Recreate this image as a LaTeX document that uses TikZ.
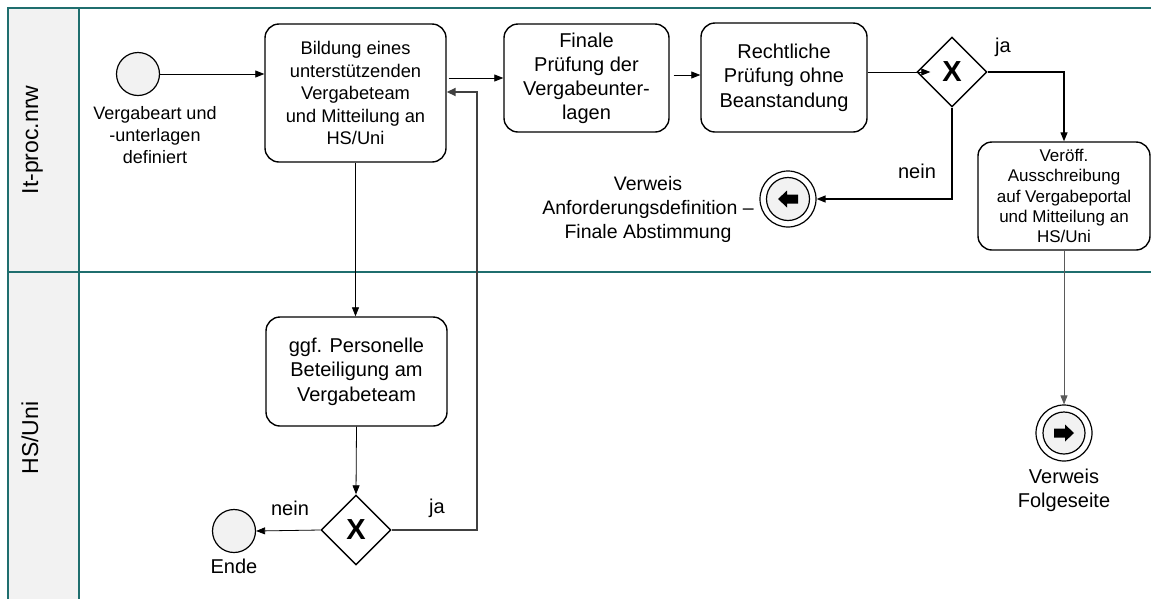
\documentclass[tikz,border=0pt]{standalone}
\usepackage{fontspec}
\setmainfont{Liberation Sans}
\usetikzlibrary{shapes.geometric,arrows.meta,calc}

\definecolor{poolline}{RGB}{31,110,110}
\definecolor{lanefill}{RGB}{242,242,242}
\definecolor{loopgray}{RGB}{64,64,64}
\definecolor{thingray}{RGB}{90,90,90}

\tikzset{
  task/.style={draw, line width=1.4pt, rounded corners=14pt, align=center,
    inner sep=0pt, font=\fontsize{20}{24.5}\selectfont},
  gateway/.style={draw, line width=1.4pt, diamond, aspect=1, inner sep=0pt,
    minimum width=70pt, minimum height=70pt,
    font=\fontsize{29}{29}\selectfont\bfseries},
  plainevent/.style={draw, line width=1.2pt, circle, fill=lanefill,
    minimum size=43pt, inner sep=0pt},
  linkevent/.style={draw, line width=1.2pt, circle, fill=white,
    minimum size=56pt, inner sep=0pt},
  lbl/.style={align=center, inner sep=0pt, font=\fontsize{20}{24}\selectfont},
  flow/.style={draw, line width=0.8pt, -{Triangle[length=9pt,width=7pt]}},
  strongflow/.style={draw, line width=1.3pt, -{Triangle[length=9pt,width=7pt]}},
  loopflow/.style={draw=loopgray, line width=1.8pt,
    -{Triangle[length=9pt,width=8pt]}},
  lanetitle/.style={rotate=90, anchor=base, inner sep=0pt,
    font=\fontsize{23}{23}\selectfont},
}

\begin{document}
\begin{tikzpicture}[x=1pt, y=-1pt]
\useasboundingbox (0,0) rectangle (1151,598);

% pool with two lanes
\fill[lanefill] (8,8) rectangle (79,620);
\draw[poolline, line width=1.8pt] (1160,8) -- (8,8) -- (8,620);
\draw[poolline, line width=1.8pt] (79,8) -- (79,620);
\draw[poolline, line width=1.8pt] (8,272) -- (1160,272);
\node[lanetitle] (laneA) at (38,140) {It-proc.nrw};
\node[lanetitle] (laneB) at (38,438) {HS/Uni};

% upper lane
\node[plainevent] (start) at (138,74) {};
\node[lbl, font=\fontsize{18}{22}\selectfont] (startlbl) at (155,135)
  {Vergabeart und\\-unterlagen\\definiert};

\node[task, minimum width=181pt, minimum height=138pt,
  font=\fontsize{18.3}{22.5}\selectfont] (box1) at (355.5,93)
  {Bildung eines\\unterstützenden\\Vergabeteam\\und Mitteilung an\\HS/Uni};
\node[task, minimum width=165pt, minimum height=108pt,
  font=\fontsize{20}{24}\selectfont] (box2) at (586.5,78)
  {Finale\\Prüfung der\\Vergabeunter-\\lagen};
\node[task, minimum width=166pt, minimum height=109pt] (box3) at (784,77.5)
  {Rechtliche\\Prüfung ohne\\Beanstandung};
\node[gateway] (gw1) at (952,72) {X};
\node[task, minimum width=172pt, minimum height=108pt,
  font=\fontsize{17}{20.3}\selectfont] (box4) at (1064,196)
  {Veröff.\\Ausschreibung\\auf Vergabeportal\\und Mitteilung an\\HS/Uni};

\node[linkevent] (ev1) at (788,199) {};
\node[circle, draw, line width=1.2pt, fill=lanefill, minimum size=43pt,
  inner sep=0pt] (ev1in) at (ev1) {};
\fill ($(ev1)+(-10,0)$) -- ($(ev1)+(-1,-8.5)$) -- ($(ev1)+(-1,-4.5)$)
  -- ($(ev1)+(10,-4.5)$) -- ($(ev1)+(10,4.5)$) -- ($(ev1)+(-1,4.5)$)
  -- ($(ev1)+(-1,8.5)$) -- cycle;
\node[lbl, font=\fontsize{19.5}{24}\selectfont] (ev1lbl) at (648,209)
  {Verweis\\Anforderungsdefinition –\\Finale Abstimmung};

% lower lane
\node[task, minimum width=181pt, minimum height=109pt] (box5) at (356.5,371.5)
  {ggf. Personelle\\Beteiligung am\\Vergabeteam};
\node[gateway] (gw2) at (356,530) {X};
\node[plainevent] (end) at (234,531) {};
\node[lbl] (endlbl) at (234,566) {Ende};

\node[linkevent] (ev2) at (1064,433) {};
\node[circle, draw, line width=1.2pt, fill=lanefill, minimum size=42pt,
  inner sep=0pt] (ev2in) at (ev2) {};
\fill ($(ev2)+(10,0)$) -- ($(ev2)+(1,-8.5)$) -- ($(ev2)+(1,-4.5)$)
  -- ($(ev2)+(-10,-4.5)$) -- ($(ev2)+(-10,4.5)$) -- ($(ev2)+(1,4.5)$)
  -- ($(ev2)+(1,8.5)$) -- cycle;
\node[lbl] (ev2lbl) at (1064,490) {Verweis\\Folgeseite};

% branch labels
\node[lbl] (ja1) at (1003,47) {ja};
\node[lbl] (nein1) at (917,171) {nein};
\node[lbl] (nein2) at (290,508) {nein};
\node[lbl] (ja2) at (437,508) {ja};

% sequence flows
\draw[flow] (start.east) -- (start.east -| box1.west);
\draw[flow] ($(box1.east)+(2,-15)$) -- (box2.west);
\draw[flow] ($(box2.east)+(4,-3)$) -- ($(box3.west)+(0,-2.5)$);
\draw[flow] ($(box3.east)+(0,-5.5)$) -- ($(gw1.west)+(14,0)$);
\draw[strongflow] (gw1.east) -| (box4.north);
\draw[strongflow] (gw1.south) |- (ev1.east);
\draw[flow, draw=thingray] (box4.south) -- (ev2.north);
\draw[flow] (box1.south) -- (box1.south |- box5.north);
\draw[flow] (box5.south) -- (gw2.north);
\draw[flow] (gw2.west) -- (end.east);
\coordinate (loopturn) at (477,92);
\draw[loopflow] (gw2.east) -| (loopturn) -- (loopturn -| box1.east);
\end{tikzpicture}
\end{document}
